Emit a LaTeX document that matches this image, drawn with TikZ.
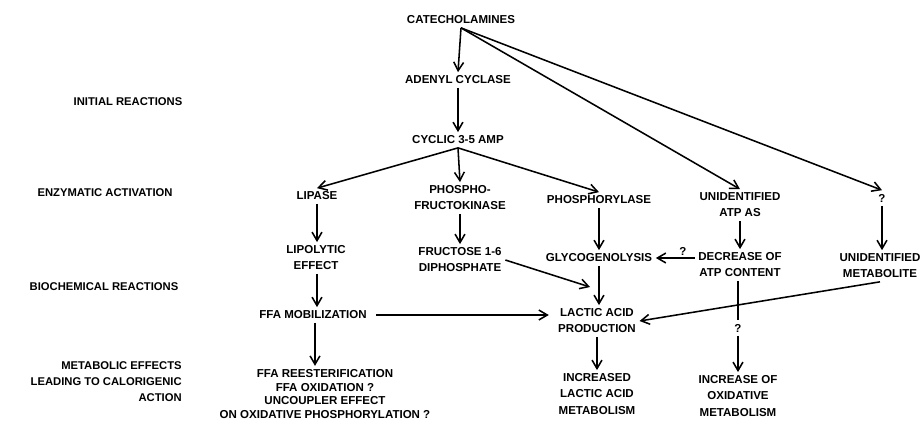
\documentclass[tikz,border=0pt]{standalone}
\usepackage{fontspec}
\setsansfont{Liberation Sans}
\usepackage{tikz}
\usetikzlibrary{positioning, arrows.meta, calc}
\tikzset{
	lbl/.style={font=\sffamily\bfseries\fontsize{8.2}{11.4}\selectfont, align=center, inner sep=2.5pt},
	stagelbl/.style={font=\sffamily\bfseries\fontsize{8}{11.4}\selectfont, align=right, inner sep=0pt},
	flow/.style={->, line width=1.1pt},
	link/.style={line width=1.1pt},
}

\begin{document}
\begin{tikzpicture}[x=0.025cm, y=-0.025cm, >={Straight Barb[length=6pt,width=7pt]}]
			\useasboundingbox (0,0) rectangle (923,428);
			
			\node[stagelbl] (initial) at (128,102) {INITIAL REACTIONS};
			\node[stagelbl] (enzymatic) at (105,193) {ENZYMATIC ACTIVATION};
			\node[stagelbl] (biochem) at (104,287) {BIOCHEMICAL REACTIONS};
			\node[stagelbl, anchor=east] (metabolic) at (182,382) {METABOLIC EFFECTS\\ LEADING TO CALORIGENIC\\ ACTION};
			
			\node[lbl] (cat) at (461,20) {CATECHOLAMINES};
			\node[lbl] (adenyl) at (458,80) {ADENYL CYCLASE};
			\node[lbl] (camp) at (458,140) {CYCLIC 3-5 AMP};
			
			\node[lbl] (lipase) at (317,196) {LIPASE};
			\node[lbl] (pfk) at (460,198) {PHOSPHO-\\ FRUCTOKINASE};
			\node[lbl] (phosphorylase) at (599,200) {PHOSPHORYLASE};
			\node[lbl] (unatp) at (740,205) {UNIDENTIFIED\\ ATP AS};
			\node[lbl] (qmet) at (882,198) {?};
			
			\node[lbl] (lipolytic) at (316,258) {LIPOLYTIC\\ EFFECT};
			\node[lbl] (fruc) at (460,260) {FRUCTOSE 1-6\\ DIPHOSPHATE};
			\node[lbl] (glyco) at (599,258) {GLYCOGENOLYSIS};
			\node[lbl] (decatp) at (740,265) {DECREASE OF\\ ATP CONTENT};
			\node[lbl] (unmet) at (880,266) {UNIDENTIFIED\\ METABOLITE};
			
			\node[lbl] (ffa) at (313,315) {FFA MOBILIZATION};
			\node[lbl] (lactic) at (597,321) {LACTIC ACID\\ PRODUCTION};
			\node[lbl] (qox) at (738,328) {?};
			
			\node[lbl, font=\sffamily\bfseries\fontsize{8.2}{9.6}\selectfont] (reest) at (325,394) {FFA REESTERIFICATION\\ FFA OXIDATION ?\\ UNCOUPLER EFFECT\\ ON OXIDATIVE PHOSPHORYLATION ?};
			\node[lbl] (incla) at (597,394) {INCREASED\\ LACTIC ACID\\ METABOLISM};
			\node[lbl] (incox) at (738,396) {INCREASE OF\\ OXIDATIVE\\ METABOLISM};
			
			\coordinate (lacin) at (590,287);
			
			\draw[flow] (cat.south) -- (adenyl.north);
			\draw[flow] (cat.south) -- (unatp.north);
			\draw[flow] (cat.south) -- (qmet.north);
			\draw[flow] (adenyl.south) -- (camp.north);
			
			\draw[flow] (camp.south) -- (lipase.north);
			\draw[flow] (camp.south) -- (pfk.north);
			\draw[flow] (camp.south) -- (phosphorylase.north);
			
			\draw[flow] (lipase.south) -- (lipase.south |- lipolytic.north);
			\draw[flow] (pfk.south) -- (fruc.north);
			\draw[flow] (phosphorylase.south) -- (glyco.north);
			\draw[flow] (unatp.south) -- (decatp.north);
			\draw[flow] (qmet.south) -- (qmet.south |- unmet.north);
			
			\draw[flow] (decatp.west |- glyco.east) -- node[lbl, above, pos=0.3, inner sep=1pt] (qglyco) {?} (glyco.east);
			\draw[flow] (lipolytic.south -| lipase.south) -- (lipase.south |- ffa.north);
			\draw[flow] (fruc.east) -- (lacin);
			\draw[flow] (glyco.south) -- (glyco.south |- lactic.north);
			\draw[flow, shorten <=4pt, shorten >=4pt] (ffa.east) -- (ffa.east -| lactic.west);
			\draw[flow] (unmet.south) -- (lactic.east);
			
			\draw[link] (decatp.south -| qox) -- (qox.north);
			\draw[flow] (qox.south) -- (incox.north);
			\draw[flow] (ffa.south -| 315,0) -- (315,0 |- reest.north);
			\draw[flow] (lactic.south -| incla) -- (incla.north);
			\end{tikzpicture}
\end{document}
